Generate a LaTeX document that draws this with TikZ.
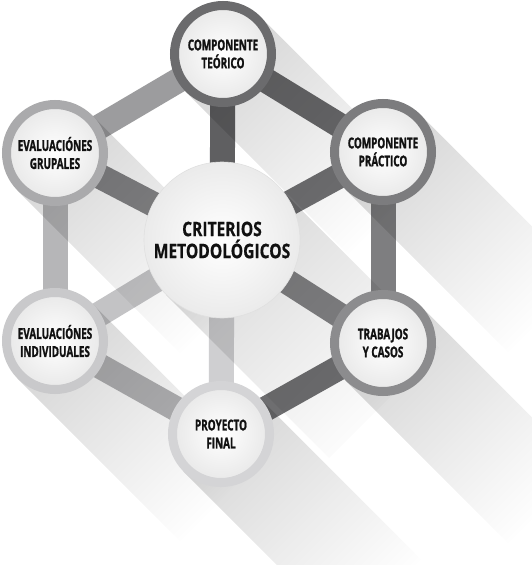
\documentclass[tikz,border=0pt]{standalone}
\usepackage{fontspec}
\newfontfamily\labf[FakeStretch=0.66, FakeBold=1.2]{Open Sans}
\newfontfamily\cenf[FakeStretch=0.78, FakeBold=0.6]{Open Sans}
\usetikzlibrary{fadings,calc}
\tikzfading[name=shfade, left color=transparent!0, right color=transparent!100]
\definecolor{txt}{HTML}{111111}
\definecolor{rT}{HTML}{6B6B6D}
\definecolor{rUR}{HTML}{7C7C7E}
\definecolor{rLR}{HTML}{8C8C8E}
\definecolor{rB}{HTML}{D4D4D6}
\definecolor{rLL}{HTML}{C9C9CB}
\definecolor{rUL}{HTML}{AAAAAC}
\definecolor{sT}{HTML}{5F5F61}
\definecolor{sUR}{HTML}{6F6F71}
\definecolor{sLR}{HTML}{838385}
\definecolor{sB}{HTML}{CFCFD1}
\definecolor{sLL}{HTML}{C3C3C5}
\definecolor{sUL}{HTML}{858587}
\definecolor{eTUL}{HTML}{9C9C9E}
\definecolor{eTUR}{HTML}{69696B}
\definecolor{eURLR}{HTML}{7E7E80}
\definecolor{eLRB}{HTML}{6E6E70}
\definecolor{eBLL}{HTML}{B4B4B6}
\definecolor{eLLUL}{HTML}{B6B6B8}
\tikzset{
  bar/.style={line width=25pt},
  outer/.style={circle, minimum size=97pt, line width=9pt, inner sep=0pt,
    inner color=white, outer color=black!9, align=center, text=txt,
    font=\labf\bfseries\fontsize{15}{18}\selectfont},
  centre/.style={circle, minimum size=156pt, inner sep=0pt, draw=black!12, line width=0.6pt,
    inner color=white, outer color=black!8, align=center, text=txt,
    font=\cenf\bfseries\fontsize{20}{22}\selectfont},
  shad/.style={fill=black, fill opacity=0.16, path fading=shfade, fading angle=-45},
}
\newcommand\lshad[2]{\fill[shad] ($(#1)+({#2*0.7071},{-#2*0.7071})$) -- ($(#1)+({-#2*0.7071},{#2*0.7071})$) -- ($(#1)+({-#2*0.7071+163},{#2*0.7071+163})$) -- ($(#1)+({#2*0.7071+163},{-#2*0.7071+163})$) -- cycle;}
\begin{document}
\begin{tikzpicture}[x=1pt,y=-1pt]
\useasboundingbox (0,0) rectangle (532,565);
\fill[white] (0,0) rectangle (532,565);
\coordinate (C) at (222,240);
\coordinate (T) at (223,54);
\coordinate (UR) at (383,152);
\coordinate (LR) at (383,343);
\coordinate (B) at (221,434);
\coordinate (LL) at (55,341);
\coordinate (UL) at (55,153);
% bars
\draw[bar, eTUL] (T) -- (UL);
\draw[bar, eTUR] (T) -- (UR);
\draw[bar, eURLR] (UR) -- (LR);
\draw[bar, eLRB] (LR) -- (B);
\draw[bar, eBLL] (B) -- (LL);
\draw[bar, eLLUL] (LL) -- (UL);
\draw[bar, sT] (C) -- (T);
\draw[bar, sUR] (C) -- (UR);
\draw[bar, sLR] (C) -- (LR);
\draw[bar, sB] (C) -- (B);
\draw[bar, sLL] (C) -- (LL);
\draw[bar, sUL] (C) -- (UL);
% long shadows
\lshad{T}{53}
\lshad{UR}{53}
\lshad{LR}{53}
\lshad{B}{53}
\lshad{LL}{53}
\lshad{UL}{53}
\lshad{C}{78}
% circles
\node[centre] (nC) at (C) {CRITERIOS\\METODOLÓGICOS};
\node[outer, draw=rT] (nT) at (T) {COMPONENTE\\TEÓRICO};
\node[outer, draw=rUR] (nUR) at (UR) {COMPONENTE\\PRÁCTICO};
\node[outer, draw=rLR] (nLR) at (LR) {TRABAJOS\\Y CASOS};
\node[outer, draw=rB] (nB) at (B) {PROYECTO\\FINAL};
\node[outer, draw=rLL] (nLL) at (LL) {EVALUACIÓNES\\INDIVIDUALES};
\node[outer, draw=rUL] (nUL) at (UL) {EVALUACIÓNES\\GRUPALES};
\end{tikzpicture}
\end{document}
